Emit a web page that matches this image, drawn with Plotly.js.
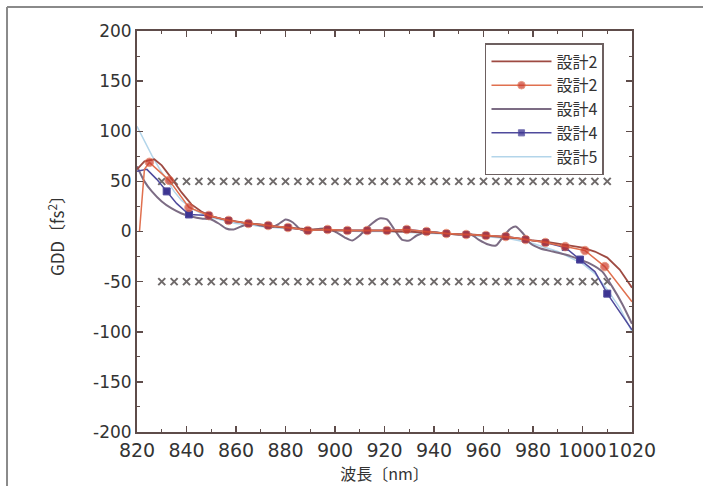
<!DOCTYPE html>
<html>
<head>
<meta charset="utf-8">
<script src="https://cdn.plot.ly/plotly-3.0.1.min.js"></script>
<style>html,body{margin:0;padding:0;background:#fff;}#chart{width:703px;height:486px;}</style>
</head>
<body>
<div id="chart"></div>
<script>
// ---- data ----
const d2LineWl  = [820,823,827,830,834,838,842,846,850,855,860,865,870,875,880,885,890,895,900,905,910,915,920,925,930,935,940,945,950,955,960,965,970,975,980,985,990,995,1000,1005,1010,1015,1020];
const d2LineGdd = [62,70,72,66,53,39,27,20,15,12,10,8,7,5,4,3,2,2,1,1,1,1,1,0,0,-1,-1,-2,-3,-3,-4,-5,-6,-7,-9,-10,-12,-14,-16,-20,-26,-38,-56];

const d2MarkWl  = [821,823,825,833,841,849,857,865,873,881,889,897,905,913,921,929,937,945,953,961,969,977,985,993,1001,1009,1020];
const d2MarkGdd = [0,62,69,51,24,16,11,8,6,4,1,2,1,1,1,2,0,-2,-3,-4,-5,-8,-11,-15,-19,-35,-70];
const d2MarkShown = [0,0,1,1,1,1,1,1,1,1,1,1,1,1,1,1,1,1,1,1,1,1,1,1,1,1,0];

const d4LineWl  = [820,823,826,830,834,838,842,846,850,853,856,859,862,866,870,874,877,880,883,886,889,892,896,900,904,907,910,914,918,921,924,927,930,933,937,941,945,950,955,958,962,965,968,971,973,976,979,983,988,993,998,1003,1008,1012,1016,1020];
const d4LineGdd = [65,50,40,30,23,18,15,13,12,8,3,2,5,8,6,4,7,12,9,2,0,2,3,0,-6,-9,-4,6,13,12,2,-8,-9,-4,-1,-1,-2,-3,-3,-8,-13,-14,-5,3,5,-2,-12,-17,-20,-23,-27,-32,-40,-55,-72,-92];

const d4MarkWl  = [820,824,828,832,836,841,849,857,865,873,881,889,897,905,913,921,929,937,945,953,961,969,977,985,993,999,1005,1010,1015,1020];
const d4MarkGdd = [60,62,52,40,28,17,16,11,8,6,4,1,2,1,1,1,2,0,-2,-3,-4,-5,-8,-11,-16,-28,-40,-62,-80,-98];
// 2 = visible marker, 1 = marker hidden under the 設計2 markers, 0 = line only
const d4MarkShown = [0,0,0,2,0,2,1,1,1,1,1,1,1,1,1,1,1,1,1,1,1,1,1,1,1,2,0,2,0,0];

const d5Wl  = [820,823,826,829,832,835,838,842,846,850,855,860,865,870,880,890,900,910,920,930,940,950,960,970,980,990,1000,1005,1010,1015,1020];
const d5Gdd = [105,90,76,63,51,40,31,23,18,14,11,8,7,5,3,2,1,0,0,-1,-2,-3,-5,-7,-12,-20,-32,-42,-58,-76,-100];

const specWl = [830,835,840,845,850,855,860,865,870,875,880,885,890,895,900,905,910,915,920,925,930,935,940,945,950,955,960,965,970,975,980,985,990,995,1000,1005,1010];
const specUpper = [50,50,50,50,50,50,50,50,50,50,50,50,50,50,50,50,50,50,50,50,50,50,50,50,50,50,50,50,50,50,50,50,50,50,50,50,50];
const specLower = [-50,-50,-50,-50,-50,-50,-50,-50,-50,-50,-50,-50,-50,-50,-50,-50,-50,-50,-50,-50,-50,-50,-50,-50,-50,-50,-50,-50,-50,-50,-50,-50,-50,-50,-50,-50,-50];

const seriesNames = ['設計2','設計2','設計4','設計4','設計5'];
const yTicks = [-200,-150,-100,-50,0,50,100,150,200];

// ---- traces ----
const CJK = '"Noto Sans CJK JP", "Noto Sans", sans-serif';
const traces = [
  {x: specWl, y: specUpper, mode: 'markers', showlegend: false, hoverinfo: 'skip',
   marker: {symbol: 'x-thin', size: 7, line: {width: 2, color: '#6f6a6a'}}},
  {x: specWl, y: specLower, mode: 'markers', showlegend: false, hoverinfo: 'skip',
   marker: {symbol: 'x-thin', size: 7, line: {width: 2, color: '#6f6a6a'}}},
  {x: d5Wl, y: d5Gdd, name: seriesNames[4], mode: 'lines', legendrank: 5,
   line: {color: '#b3d5ea', width: 1.5}},
  {x: d4LineWl, y: d4LineGdd, name: seriesNames[2], mode: 'lines', legendrank: 3,
   line: {color: '#7c6c84', width: 2, shape: 'spline', smoothing: 0.6}},
  {x: d4MarkWl, y: d4MarkGdd, name: seriesNames[3], mode: 'lines+markers', legendrank: 4,
   line: {color: '#4f4a9c', width: 1.5},
   marker: {symbol: 'square', color: '#3d3592',
            size: d4MarkShown.map(v => v === 2 ? 7 : 6),
            opacity: d4MarkShown.map(v => v ? 1 : 0)}},
  {x: d2LineWl, y: d2LineGdd, name: seriesNames[0], mode: 'lines', legendrank: 1,
   line: {color: '#9e4a42', width: 1.8}},
  {x: d2MarkWl, y: d2MarkGdd, name: seriesNames[1], mode: 'lines+markers', legendrank: 2,
   line: {color: '#e0704f', width: 1.5},
   marker: {symbol: 'circle', color: '#cc3b2c', size: d2MarkShown.map(v => v ? 8.5 : 0)}}
];

const axisCol = '#5e4c4a';
const layout = {
  width: 703, height: 486,
  margin: {l: 137, r: 71, t: 31, b: 54},
  paper_bgcolor: '#fff', plot_bgcolor: '#fff',
  font: {family: CJK, color: '#333'},
  showlegend: true,
  legend: {x: 0.703, y: 0.97, xanchor: 'left', yanchor: 'top',
           bgcolor: '#fff', bordercolor: '#6d6060', borderwidth: 1.5,
           font: {family: CJK, size: 16, color: '#333'}, itemwidth: 60,
           tracegroupgap: 0},
  xaxis: {range: [820, 1020], dtick: 20, tick0: 820, tickangle: 0,
          showgrid: false, zeroline: false,
          showline: true, linecolor: axisCol, linewidth: 2, mirror: 'ticks',
          ticks: 'inside', ticklen: 6, tickwidth: 1.5, tickcolor: axisCol,
          minor: {ticks: 'inside', dtick: 10, ticklen: 3, tickcolor: axisCol, tickwidth: 1},
          tickfont: {family: '"DejaVu Sans", sans-serif', size: 19, color: '#333'},
          title: {text: '波長〔nm〕', font: {family: CJK, size: 16, color: '#333'}, standoff: 6}},
  yaxis: {range: [-200, 200], tickvals: yTicks, ticktext: yTicks.map(String),
          showgrid: false, zeroline: false,
          showline: true, linecolor: axisCol, linewidth: 2, mirror: 'ticks',
          ticks: 'inside', ticklen: 6, tickwidth: 1.5, tickcolor: axisCol,
          minor: {ticks: 'inside', dtick: 25, ticklen: 3, tickcolor: axisCol, tickwidth: 1},
          tickfont: {family: '"DejaVu Sans", sans-serif', size: 17, color: '#333'},
          title: {text: 'GDD〔fs<sup>2</sup>〕', font: {family: CJK, size: 17, color: '#333'}, standoff: 24}},
  shapes: [
    {type: 'line', xref: 'paper', yref: 'paper', x0: -0.2626, x1: 1.2, y0: 1.0599, y1: 1.0599,
     line: {color: '#8a8a8a', width: 2}},
    {type: 'line', xref: 'paper', yref: 'paper', x0: -0.2626, x1: -0.2626, y0: 1.0599, y1: -0.2,
     line: {color: '#8a8a8a', width: 2}}
  ]
};

Plotly.newPlot('chart', traces, layout, {displayModeBar: false, staticPlot: true});
</script>
</body>
</html>
